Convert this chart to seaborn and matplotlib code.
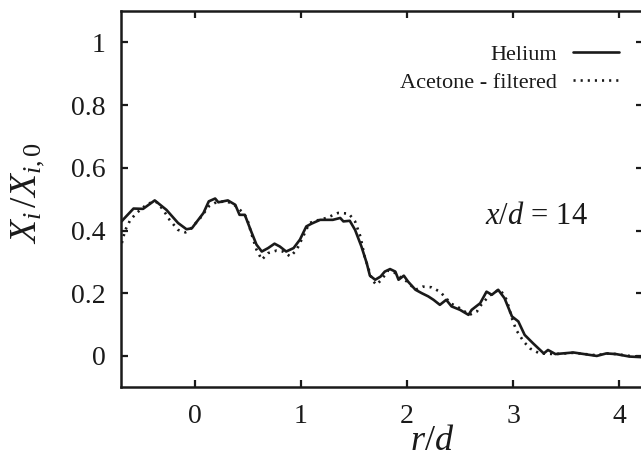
import matplotlib
matplotlib.use("Agg")
import matplotlib.pyplot as plt
import seaborn as sns
import pandas as pd

helium_x = [-0.69, -0.68, -0.58, -0.49, -0.38, -0.27, -0.16, -0.08, -0.03, 0.08, 0.13, 0.19, 0.22, 0.31,
            0.38, 0.42, 0.47, 0.53, 0.58, 0.63, 0.69, 0.75, 0.80, 0.86, 0.93, 0.99, 1.05, 1.10, 1.18, 1.30,
            1.37, 1.40, 1.46, 1.51, 1.57, 1.62, 1.65, 1.70, 1.75, 1.79, 1.84, 1.89, 1.92, 1.97, 2.01, 2.08,
            2.14, 2.20, 2.25, 2.31, 2.37, 2.42, 2.50, 2.58, 2.61, 2.69, 2.75, 2.80, 2.86, 2.92, 2.99, 3.05,
            3.11, 3.19, 3.29, 3.33, 3.40, 3.57, 3.79, 3.88, 3.97, 4.10, 4.22]
helium_y = [0.43, 0.434, 0.47, 0.469, 0.496, 0.466, 0.424, 0.404, 0.407, 0.456, 0.493, 0.502, 0.49, 0.496,
            0.482, 0.45, 0.45, 0.397, 0.355, 0.333, 0.344, 0.358, 0.349, 0.333, 0.344, 0.371, 0.413, 0.422,
            0.434, 0.434, 0.44, 0.429, 0.431, 0.402, 0.349, 0.296, 0.256, 0.243, 0.253, 0.269, 0.277, 0.269,
            0.243, 0.256, 0.237, 0.211, 0.20, 0.19, 0.179, 0.163, 0.179, 0.158, 0.147, 0.131, 0.147, 0.168,
            0.205, 0.195, 0.211, 0.184, 0.126, 0.11, 0.067, 0.040, 0.008, 0.019, 0.006, 0.011, 0.0, 0.008,
            0.006, -0.002, -0.004]

acetone_x = [-0.69, -0.66, -0.61, -0.55, -0.46, -0.39, -0.36, -0.30, -0.24, -0.16, -0.09, -0.05, 0.05, 0.13,
             0.20, 0.30, 0.37, 0.44, 0.49, 0.53, 0.58, 0.63, 0.69, 0.77, 0.83, 0.90, 0.96, 1.02, 1.08, 1.17,
             1.24, 1.35, 1.45, 1.51, 1.56, 1.60, 1.67, 1.71, 1.76, 1.82, 1.87, 1.93, 2.00, 2.08, 2.15, 2.23,
             2.31, 2.37, 2.41, 2.50, 2.59, 2.66, 2.70, 2.77, 2.83, 2.88, 2.94, 2.99, 3.03, 3.10, 3.16, 3.25,
             3.40, 3.57, 3.79, 3.88, 3.97, 4.10, 4.22]
acetone_y = [0.36, 0.40, 0.434, 0.456, 0.482, 0.493, 0.49, 0.466, 0.434, 0.402, 0.394, 0.402, 0.44, 0.477,
             0.49, 0.493, 0.482, 0.461, 0.44, 0.392, 0.339, 0.307, 0.328, 0.336, 0.333, 0.317, 0.339, 0.381,
             0.424, 0.434, 0.44, 0.456, 0.454, 0.429, 0.381, 0.317, 0.243, 0.227, 0.243, 0.272, 0.269, 0.253,
             0.237, 0.211, 0.221, 0.219, 0.205, 0.184, 0.168, 0.152, 0.131, 0.142, 0.163, 0.19, 0.205, 0.211,
             0.179, 0.12, 0.083, 0.046, 0.024, 0.008, 0.006, 0.010, 0.002, 0.008, 0.006, 0.0, -0.003]

x_ticks = [0, 1, 2, 3, 4]
y_ticks = [0, 0.2, 0.4, 0.6, 0.8, 1]
y_tick_labels = ["0", "0.2", "0.4", "0.6", "0.8", "1"]

sns.set_theme(style="white")
plt.rcParams['font.family'] = ['Liberation Serif', 'DejaVu Serif']
plt.rcParams['mathtext.fontset'] = 'custom'
plt.rcParams['mathtext.rm'] = 'Liberation Serif'
plt.rcParams['mathtext.it'] = 'Liberation Serif:italic'
plt.rcParams['mathtext.bf'] = 'Liberation Serif:bold'

ink = "#1a1a1a"
fig = plt.figure(figsize=(6.41, 4.66), dpi=100)
L, R, B, T = 120.8, 643.4, 387.3, 11.0
ax = fig.add_axes([L / 641, (466 - B) / 466, (R - L) / 641, (B - T) / 466])

df_h = pd.DataFrame({"x": helium_x, "y": helium_y})
df_a = pd.DataFrame({"x": acetone_x, "y": acetone_y})
sns.lineplot(data=df_h, x="x", y="y", ax=ax, color=ink, lw=1.9, label="Helium",
             estimator=None, sort=False)
sns.lineplot(data=df_a, x="x", y="y", ax=ax, color=ink, lw=1.9, label="Acetone - filtered",
             estimator=None, sort=False, linestyle=(0, (0.8, 1.9)))

ax.set_xlim(-0.7, 4.23)
ax.set_ylim(-0.1, 1.1)
ax.set_xticks(x_ticks)
ax.set_xticklabels([str(t) for t in x_ticks])
ax.set_yticks(y_ticks)
ax.set_yticklabels(y_tick_labels)
ax.tick_params(direction="in", length=5, width=1.6, colors=ink, labelsize=20,
               top=True, right=True, bottom=True, left=True)
ax.tick_params(axis="x", pad=12)
ax.tick_params(axis="y", pad=11)
for s in ax.spines.values():
    s.set_linewidth(1.8)
    s.set_color(ink)
    s.set_visible(True)

ax.set_xlabel(r"$r/d$", fontsize=26, color=ink)
ax.xaxis.set_label_coords((432 - L) / (R - L), (B - 458) / (B - T))
ax.xaxis.label.set_va("bottom")
ax.set_ylabel(r"$X_i\,/X_{i,0}$", fontsize=27, color=ink)
ax.yaxis.set_label_coords((47 - L) / (R - L), (B - 193) / (B - T))

ax.text(536, 466 - 217, r"$x/d\,=\,14$", transform=None, fontsize=22, color=ink,
        ha="center", va="center")

leg = ax.legend(loc="upper right",
                bbox_to_anchor=((613 - L) / (R - L) + 0.012, (B - 44) / (B - T)),
                frameon=False, markerfirst=False, fontsize=16, handlelength=2.1,
                handletextpad=0.7, labelspacing=0.35, borderaxespad=0.0, borderpad=0.0)
for t in leg.get_texts():
    t.set_color(ink)

fig.savefig("out.png", dpi=100)
